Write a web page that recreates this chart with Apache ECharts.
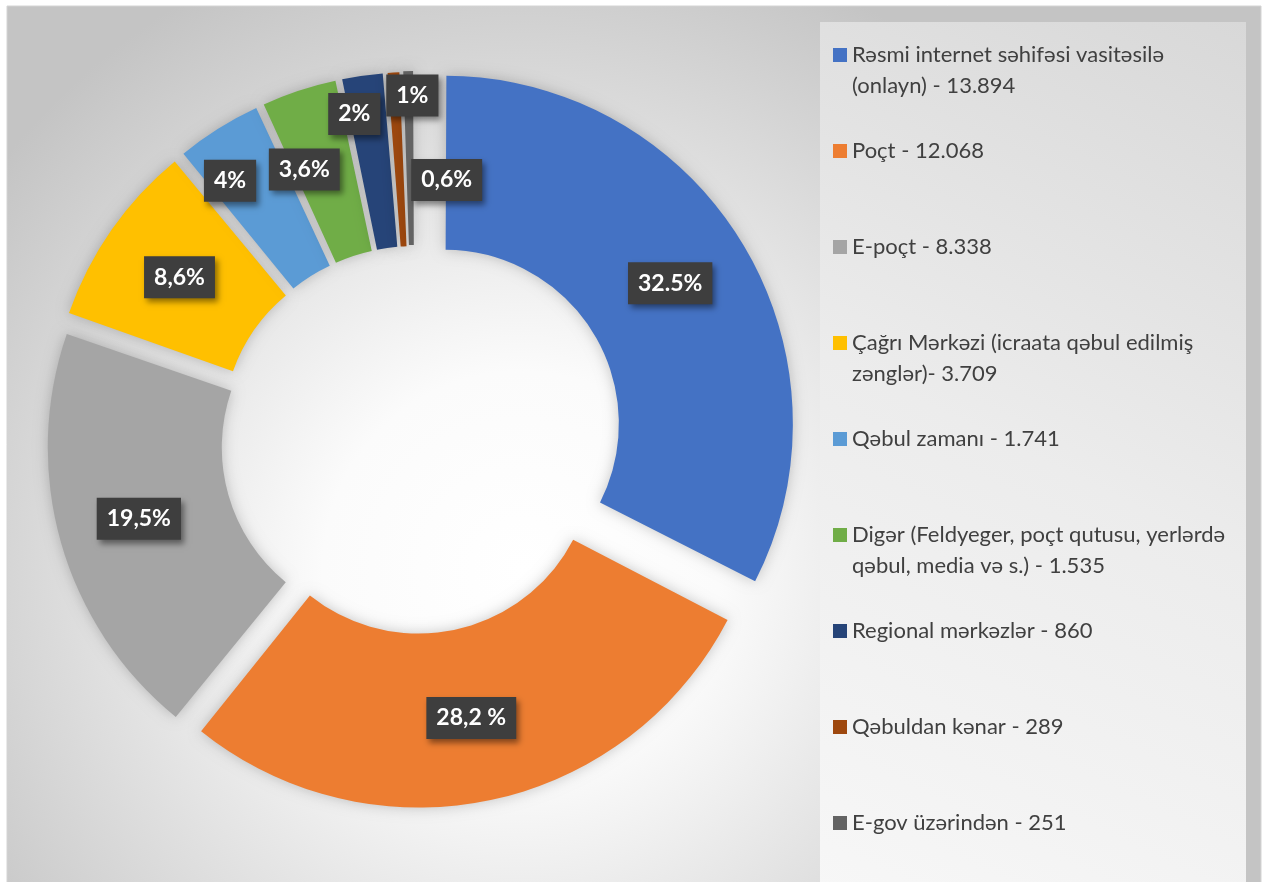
<!DOCTYPE html>
<html>
<head>
<meta charset="utf-8">
<script src="https://cdn.jsdelivr.net/npm/echarts@6/dist/echarts.min.js"></script>
<style>
  html, body { margin: 0; padding: 0; background: #ffffff; }
  #chart { width: 1269px; height: 882px; }
</style>
</head>
<body>
<div id="chart"></div>
<script>
// ---- data ----
const categories = [
  'Rəsmi internet səhifəsi vasitəsilə (onlayn) - 13.894',
  'Poçt - 12.068',
  'E-poçt - 8.338',
  'Çağrı Mərkəzi (icraata qəbul edilmiş zənglər)- 3.709',
  'Qəbul zamanı - 1.741',
  'Digər (Feldyeger, poçt qutusu, yerlərdə qəbul, media və s.) - 1.535',
  'Regional mərkəzlər - 860',
  'Qəbuldan kənar - 289',
  'E-gov üzərindən - 251'
];
const values = [13894, 12068, 8338, 3709, 1741, 1535, 860, 289, 251];
const pctLabels = ['32.5%', '28,2 %', '19,5%', '8,6%', '4%', '3,6%', '2%', '1%', '0,6%'];

// ---- styling ----
const colors = ['#4472C4', '#ED7D31', '#A5A5A5', '#FFC000', '#5B9BD5', '#70AD47', '#264478', '#9E480E', '#636363'];
const explode = [35, 18, 20, 22, 22, 22, 22, 22, 23];
const labelNudge = [[0,-3],[-2,0],[-3,-1],[-1,-1],[-33,-19],[-21,-1],[-20,-45],[14,-61],[37,25]];
const legendBreakAfter = { 0: 'vasitəsilə ', 3: 'edilmiş ', 5: 'yerlərdə ' };
const FONT = 'Lato, "Open Sans", sans-serif';
const CENTER = [415, 442];
const RADIUS = [174, 348];

const chart = echarts.init(document.getElementById('chart'), null, { renderer: 'canvas' });

const legends = categories.map((name, i) => {
  const brk = legendBreakAfter[i];
  const tall = !!brk;
  const firstLineY = 55 + 96 * i;
  return {
    data: [{ name: name, icon: tall ? 'path://M0,0L14,0L14,14L0,14Z M0,45L0.01,45L0,45Z' : 'rect' }],
    orient: 'vertical',
    left: 833,
    top: firstLineY - 15.5,
    itemWidth: 14,
    itemHeight: tall ? 45 : 14,
    itemGap: 0,
    selectedMode: false,
    padding: 0,
    formatter: n => brk ? n.replace(brk, brk.trim() + '\n') : n,
    textStyle: {
      fontFamily: FONT,
      fontSize: 22,
      color: '#404040',
      lineHeight: 31
    }
  };
});

// one ring per slice, so each slice can be pulled out by its own amount;
// the other slices of that ring are left invisible
const series = categories.map((name, i) => ({
  type: 'pie',
  silent: true,
  center: CENTER,
  radius: RADIUS,
  startAngle: 90,
  clockwise: true,
  padAngle: 0.5,
  selectedMode: 'multiple',
  selectedOffset: explode[i],
  avoidLabelOverlap: false,
  emphasis: { disabled: true },
  select: { itemStyle: { borderWidth: 0 } },
  labelLine: { show: false },
  labelLayout: p => ({ dx: labelNudge[i][0], dy: labelNudge[i][1] }),
  data: values.map((v, j) => j === i
    ? {
        name: name, value: v, selected: true,
        itemStyle: { color: colors[i], borderWidth: 0, shadowBlur: 14, shadowColor: 'rgba(0,0,0,0.22)' },
        label: {
          show: true,
          position: 'inside',
          formatter: () => pctLabels[i],
          fontFamily: FONT,
          fontWeight: 'bold',
          fontSize: 23,
          lineHeight: 28,
          color: '#ffffff',
          backgroundColor: '#3e3e3e',
          padding: [7, 10, 7, 10],
          shadowColor: 'rgba(0,0,0,0.45)',
          shadowBlur: 6,
          shadowOffsetX: 3,
          shadowOffsetY: 4
        }
      }
    : {
        name: '_' + i + '_' + j, value: v,
        itemStyle: { color: 'rgba(0,0,0,0)', shadowBlur: 0, borderWidth: 0 },
        label: { show: false }
      })
}));

const option = {
  animation: false,
  graphic: {
    elements: [
      {
        type: 'rect', z: -20, silent: true,
        shape: { x: 7, y: 6, width: 1254, height: 880 },
        style: {
          fill: {
            type: 'radial', x: 0.41, y: 0.64, r: 0.75,
            colorStops: [
              { offset: 0, color: '#ffffff' },
              { offset: 0.3, color: '#fbfbfb' },
              { offset: 1, color: '#c4c4c4' }
            ]
          },
          stroke: '#d4d4d4', lineWidth: 1
        }
      },
      {
        type: 'rect', z: -19, silent: true,
        shape: { x: 820, y: 22, width: 426, height: 870 },
        style: {
          fill: {
            type: 'linear', x: 0, y: 1, x2: 1, y2: 0,
            colorStops: [
              { offset: 0, color: '#f7f7f7' },
              { offset: 0.5, color: '#ececec' },
              { offset: 1, color: '#d8d8d8' }
            ]
          }
        }
      }
    ]
  },
  legend: legends,
  series: series
};

chart.setOption(option);
</script>
</body>
</html>
